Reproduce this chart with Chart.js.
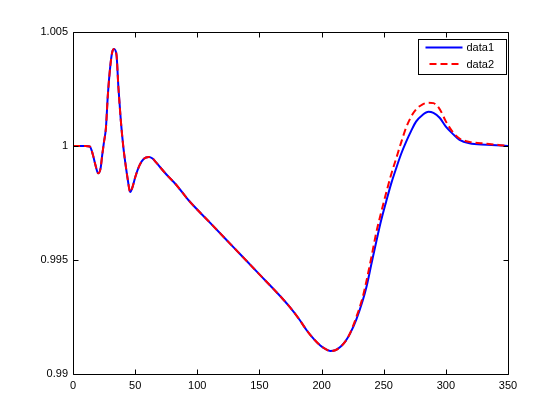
<!DOCTYPE html>
<html>
<head>
<meta charset="utf-8">
<script src="https://cdn.jsdelivr.net/npm/chart.js@4"></script>
<style>
  html, body { margin: 0; padding: 0; background: #ffffff; }
  #wrap { width: 560px; height: 420px; }
</style>
</head>
<body>
<div id="wrap"><canvas id="plot" width="560" height="420"></canvas></div>
<script>
// values
const xValues = [0, 10, 13.5, 16, 18, 20.3, 22.2, 23.5, 25, 26.5, 28, 30, 31.5, 33, 35, 36.5, 38.5, 40.5, 42, 44,
  46, 48, 50, 53.5, 57, 61, 64, 67, 75, 83, 93, 110, 130, 150, 169, 175,
  182, 188, 194, 199, 203, 207, 211, 215, 219, 223, 228, 233, 236, 240, 244, 248, 252, 256, 260, 264,
  268, 272, 276, 281, 286, 290, 295, 300, 306, 311, 319, 333, 350];

const data1Values = [1.0, 1.0, 0.99998, 0.99962, 0.99918, 0.9988, 0.99902, 0.9996, 1.0002, 1.0008, 1.0022, 1.0035, 1.0041, 1.00425, 1.004, 1.0026, 1.0011, 0.99995, 0.9993, 0.99855,
  0.99798, 0.99822, 0.99862, 0.99915, 0.99944, 0.99952, 0.99945, 0.99927, 0.99876, 0.9983, 0.99762, 0.99665, 0.99551, 0.99437, 0.99328, 0.9929,
  0.9924, 0.99192, 0.99152, 0.99125, 0.9911, 0.99101, 0.99104, 0.99118, 0.99142, 0.99178, 0.9924, 0.9932, 0.99379, 0.9948, 0.9958, 0.99675, 0.99757, 0.99835, 0.99902, 0.99965,
  1.00018, 1.00065, 1.00107, 1.00135, 1.0015, 1.00145, 1.00124, 1.00085, 1.00051, 1.00027, 1.00012, 1.00006, 1.0];

const data2Values = [1.0, 1.0, 0.99998, 0.99962, 0.99918, 0.9988, 0.99902, 0.9996, 1.0002, 1.0008, 1.0022, 1.0035, 1.0041, 1.00425, 1.004, 1.0026, 1.0011, 0.99995, 0.9993, 0.99855,
  0.99798, 0.99822, 0.99862, 0.99915, 0.99944, 0.99952, 0.99945, 0.99927, 0.99876, 0.9983, 0.99762, 0.99665, 0.99551, 0.99437, 0.99328, 0.9929,
  0.9924, 0.99192, 0.99152, 0.99125, 0.9911, 0.99101, 0.99104, 0.99118, 0.99142, 0.9918, 0.9925, 0.99335, 0.99405, 0.9951, 0.9962, 0.9971, 0.99795, 0.99875, 0.99945, 1.00015,
  1.0008, 1.00128, 1.0016, 1.00182, 1.0019, 1.00188, 1.00162, 1.00108, 1.00058, 1.00033, 1.00018, 1.0001, 1.0];

const xTicks = [0, 50, 100, 150, 200, 250, 300, 350];
const yTicks = [0.99, 0.995, 1, 1.005];
const yTickLabels = ['0.99', '0.995', '1', '1.005'];

const seriesNames = ['data1', 'data2'];

const tickFont = { family: 'Liberation Sans, Arial, sans-serif', size: 11 };

function toPoints(values) {
  return xValues.map((x, i) => ({ x: x, y: values[i] }));
}

// box, inward ticks and legend like the matlab figure
const matlabFrame = {
  id: 'matlabFrame',
  afterDatasetsDraw(chart) {
    const ctx = chart.ctx;
    const area = chart.chartArea;
    const xs = chart.scales.x;
    const ys = chart.scales.y;
    const L = Math.round(area.left) + 0.5;
    const R = Math.round(area.right) + 0.5;
    const T = Math.round(area.top) + 0.5;
    const B = Math.round(area.bottom) + 0.5;
    const tick = 5;

    ctx.save();
    ctx.strokeStyle = '#000000';
    ctx.lineWidth = 1;
    ctx.beginPath();
    ctx.rect(L, T, R - L, B - T);
    xTicks.forEach(v => {
      const px = Math.round(xs.getPixelForValue(v)) + 0.5;
      ctx.moveTo(px, B); ctx.lineTo(px, B - tick);
      ctx.moveTo(px, T); ctx.lineTo(px, T + tick);
    });
    yTicks.forEach(v => {
      const py = Math.round(ys.getPixelForValue(v)) + 0.5;
      ctx.moveTo(L, py); ctx.lineTo(L + tick, py);
      ctx.moveTo(R, py); ctx.lineTo(R - tick, py);
    });
    ctx.stroke();

    // legend
    const bw = 88, bh = 35;
    const bx = R - 2 - bw, by = T + 7;
    ctx.fillStyle = '#ffffff';
    ctx.fillRect(bx, by, bw, bh);
    ctx.strokeRect(bx, by, bw, bh);
    ctx.font = '11px Liberation Sans, Arial, sans-serif';
    ctx.textBaseline = 'middle';
    chart.data.datasets.forEach((ds, i) => {
      const ly = by + 8 + i * 16.5;
      ctx.beginPath();
      ctx.strokeStyle = ds.borderColor;
      ctx.lineWidth = 2;
      ctx.setLineDash(ds.borderDash || []);
      ctx.moveTo(bx + (ds.borderDash ? 11 : 7), ly);
      ctx.lineTo(bx + 44, ly);
      ctx.stroke();
      ctx.setLineDash([]);
      ctx.fillStyle = '#000000';
      ctx.fillText(ds.label, bx + 48, ly + 0.5);
    });
    ctx.restore();
  }
};

new Chart(document.getElementById('plot').getContext('2d'), {
  type: 'line',
  data: {
    datasets: [
      {
        label: seriesNames[0],
        data: toPoints(data1Values),
        borderColor: '#0000ff',
        borderWidth: 2,
        pointRadius: 0,
        cubicInterpolationMode: 'monotone',
        fill: false,
        order: 1
      },
      {
        label: seriesNames[1],
        data: toPoints(data2Values),
        borderColor: '#ff0000',
        borderWidth: 2,
        borderDash: [7, 4],
        pointRadius: 0,
        cubicInterpolationMode: 'monotone',
        fill: false,
        order: 0
      }
    ]
  },
  options: {
    responsive: false,
    animation: false,
    devicePixelRatio: 1,
    layout: { padding: { left: 0, top: 32, right: 52, bottom: 0 } },
    plugins: {
      legend: { display: false },
      tooltip: { enabled: false }
    },
    scales: {
      x: {
        type: 'linear',
        min: 0,
        max: 350,
        grid: { display: false, drawTicks: false },
        border: { display: false },
        afterBuildTicks: scale => { scale.ticks = xTicks.map(v => ({ value: v })); },
        afterFit: scale => { scale.height = 46; },
        ticks: {
          color: '#000000',
          font: tickFont,
          padding: 5,
          maxRotation: 0,
          autoSkip: false,
          callback: v => String(v)
        }
      },
      y: {
        type: 'linear',
        min: 0.99,
        max: 1.005,
        grid: { display: false, drawTicks: false },
        border: { display: false },
        afterBuildTicks: scale => { scale.ticks = yTicks.map(v => ({ value: v })); },
        afterFit: scale => { scale.width = 73; },
        ticks: {
          color: '#000000',
          font: tickFont,
          padding: 5,
          autoSkip: false,
          callback: (v, i) => yTickLabels[i]
        }
      }
    }
  },
  plugins: [matlabFrame]
});
</script>
</body>
</html>
